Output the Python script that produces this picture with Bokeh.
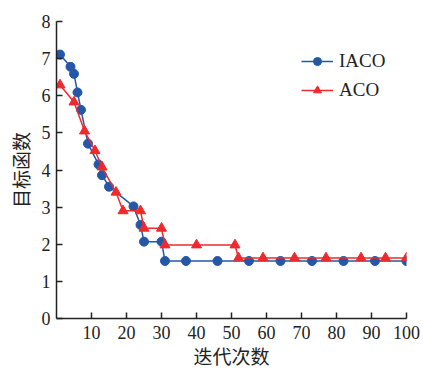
from bokeh.plotting import figure
from bokeh.models import Range1d, FixedTicker, Legend, LegendItem
from bokeh.embed import file_html
from bokeh.resources import INLINE

iaco_x = [1, 4, 5, 6, 7, 9, 12, 13, 15, 22, 24, 25, 30, 31, 37, 46, 55, 64, 73, 82, 91, 100]
iaco_y = [7.11, 6.78, 6.59, 6.09, 5.62, 4.71, 4.15, 3.86, 3.55, 3.02, 2.52, 2.07, 2.07,
          1.55, 1.55, 1.55, 1.55, 1.55, 1.55, 1.55, 1.55, 1.55]
aco_x = [1, 5, 8, 11, 13, 17, 19, 24, 25, 30, 31, 40, 51, 52, 59, 68, 77, 87, 94, 100]
aco_y = [6.29, 5.83, 5.05, 4.52, 4.08, 3.40, 2.90, 2.90, 2.43, 2.43, 1.98, 1.98, 1.98,
         1.63, 1.63, 1.63, 1.63, 1.63, 1.63, 1.63]
x_ticks = [10, 20, 30, 40, 50, 60, 70, 80, 90, 100]
y_ticks = [0, 1, 2, 3, 4, 5, 6, 7, 8]
x_title = "迭代次数"
y_title = "目标函数"

BLUE = "#2457a8"
RED = "#ee2a2e"
SERIF = "Liberation Serif"
CJK = "Noto Sans CJK SC"

p = figure(width=423, height=373, output_backend="svg", toolbar_location=None,
           x_range=Range1d(0, 100), y_range=Range1d(0, 8),
           min_border_left=56, min_border_right=17, min_border_top=21, min_border_bottom=55)
p.outline_line_color = None
p.xgrid.visible = False
p.ygrid.visible = False
p.background_fill_color = "white"

for ax in (p.xaxis[0], p.yaxis[0]):
    ax.axis_line_color = "#222222"
    ax.axis_line_width = 1.5
    ax.major_tick_line_color = "#222222"
    ax.major_tick_line_width = 1.5
    ax.major_tick_in = 6
    ax.major_tick_out = 0
    ax.minor_tick_line_color = None
    ax.major_label_text_font = SERIF
    ax.major_label_text_font_size = "18px"
    ax.major_label_text_color = "#222222"
    ax.axis_label_text_font = CJK
    ax.axis_label_text_font_size = "19px"
    ax.axis_label_text_font_style = "normal"
    ax.axis_label_text_color = "#222222"

p.xaxis.ticker = FixedTicker(ticks=x_ticks)
p.yaxis.ticker = FixedTicker(ticks=y_ticks)
p.xaxis.axis_label = x_title
p.yaxis.axis_label = y_title
p.xaxis.major_label_standoff = 7
p.yaxis.major_label_standoff = 6
p.xaxis.axis_label_standoff = 0
p.yaxis.axis_label_standoff = 5

l1 = p.line(iaco_x, iaco_y, line_color=BLUE, line_width=1.5)
c1 = p.scatter(iaco_x, iaco_y, marker="circle", size=9, fill_color=BLUE, line_color=BLUE)
l2 = p.line(aco_x, aco_y, line_color=RED, line_width=1.5)
c2 = p.scatter(aco_x, aco_y, marker="triangle", size=10, fill_color=RED, line_color=RED)

legend = Legend(items=[LegendItem(label="IACO", renderers=[l1, c1]),
                       LegendItem(label="ACO", renderers=[l2, c2])],
                location=(245, 217))
legend.border_line_color = None
legend.background_fill_alpha = 0
legend.label_text_font = SERIF
legend.label_text_font_size = "19px"
legend.label_text_color = "#222222"
legend.glyph_width = 32
legend.spacing = 7
legend.label_standoff = 6
p.add_layout(legend)

open("out.html", "w").write(file_html(p, INLINE))
